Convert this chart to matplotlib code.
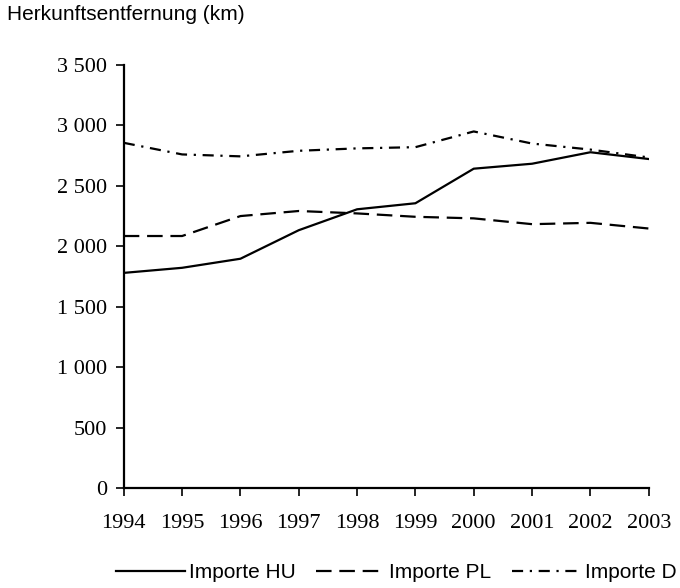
import matplotlib
matplotlib.use("Agg")
import matplotlib.pyplot as plt
from matplotlib.ticker import FuncFormatter

years = [1994, 1995, 1996, 1997, 1998, 1999, 2000, 2001, 2002, 2003]
importe_hu = [1780, 1822, 1897, 2133, 2306, 2356, 2642, 2683, 2778, 2722]
importe_pl = [2085, 2085, 2250, 2292, 2272, 2244, 2231, 2183, 2194, 2147]
importe_d = [2856, 2760, 2744, 2790, 2810, 2820, 2950, 2850, 2800, 2735]

serif = ["Liberation Serif", "DejaVu Serif"]
sans = ["Liberation Sans", "DejaVu Sans"]

fig = plt.figure(figsize=(6.8, 5.88), dpi=100)
ax = fig.add_axes([0.182, 0.170, 0.772, 0.7195])

ax.plot(years, importe_hu, color="black", lw=1.6, label="Importe HU")
ax.plot(years, importe_pl, color="black", lw=1.6, linestyle=(0, (7, 3.5)), label="Importe PL")
ax.plot(years, importe_d, color="black", lw=1.6, linestyle=(0, (5, 3, 1, 3)), label="Importe D")

ax.set_xlim(1994, 2003)
ax.set_ylim(0, 3500)
ax.set_xticks(years)
ax.set_yticks(range(0, 3501, 500))
ax.yaxis.set_major_formatter(FuncFormatter(lambda v, p: f"{int(v):,}".replace(",", " ")))

for s in ["top", "right"]:
    ax.spines[s].set_visible(False)
ax.spines["left"].set_linewidth(1.6)
ax.spines["bottom"].set_linewidth(1.6)
ax.tick_params(axis="both", direction="out", length=6, width=1.2, pad=6)
ax.tick_params(axis="x", pad=13)
for lab in ax.get_xticklabels() + ax.get_yticklabels():
    lab.set_family(serif)
    lab.set_fontsize(16)

fig.text(7 / 680, 1 - 15 / 588, "Herkunftsentfernung (km)", ha="left", va="center",
         family=sans, fontsize=15)

leg = fig.legend(loc="center", bbox_to_anchor=(0.583, 0.026), ncol=3, frameon=False,
                 handlelength=3.3, columnspacing=1.0, handletextpad=0.2,
                 prop={"family": sans, "size": 15})

fig.savefig("out.png", dpi=100)
